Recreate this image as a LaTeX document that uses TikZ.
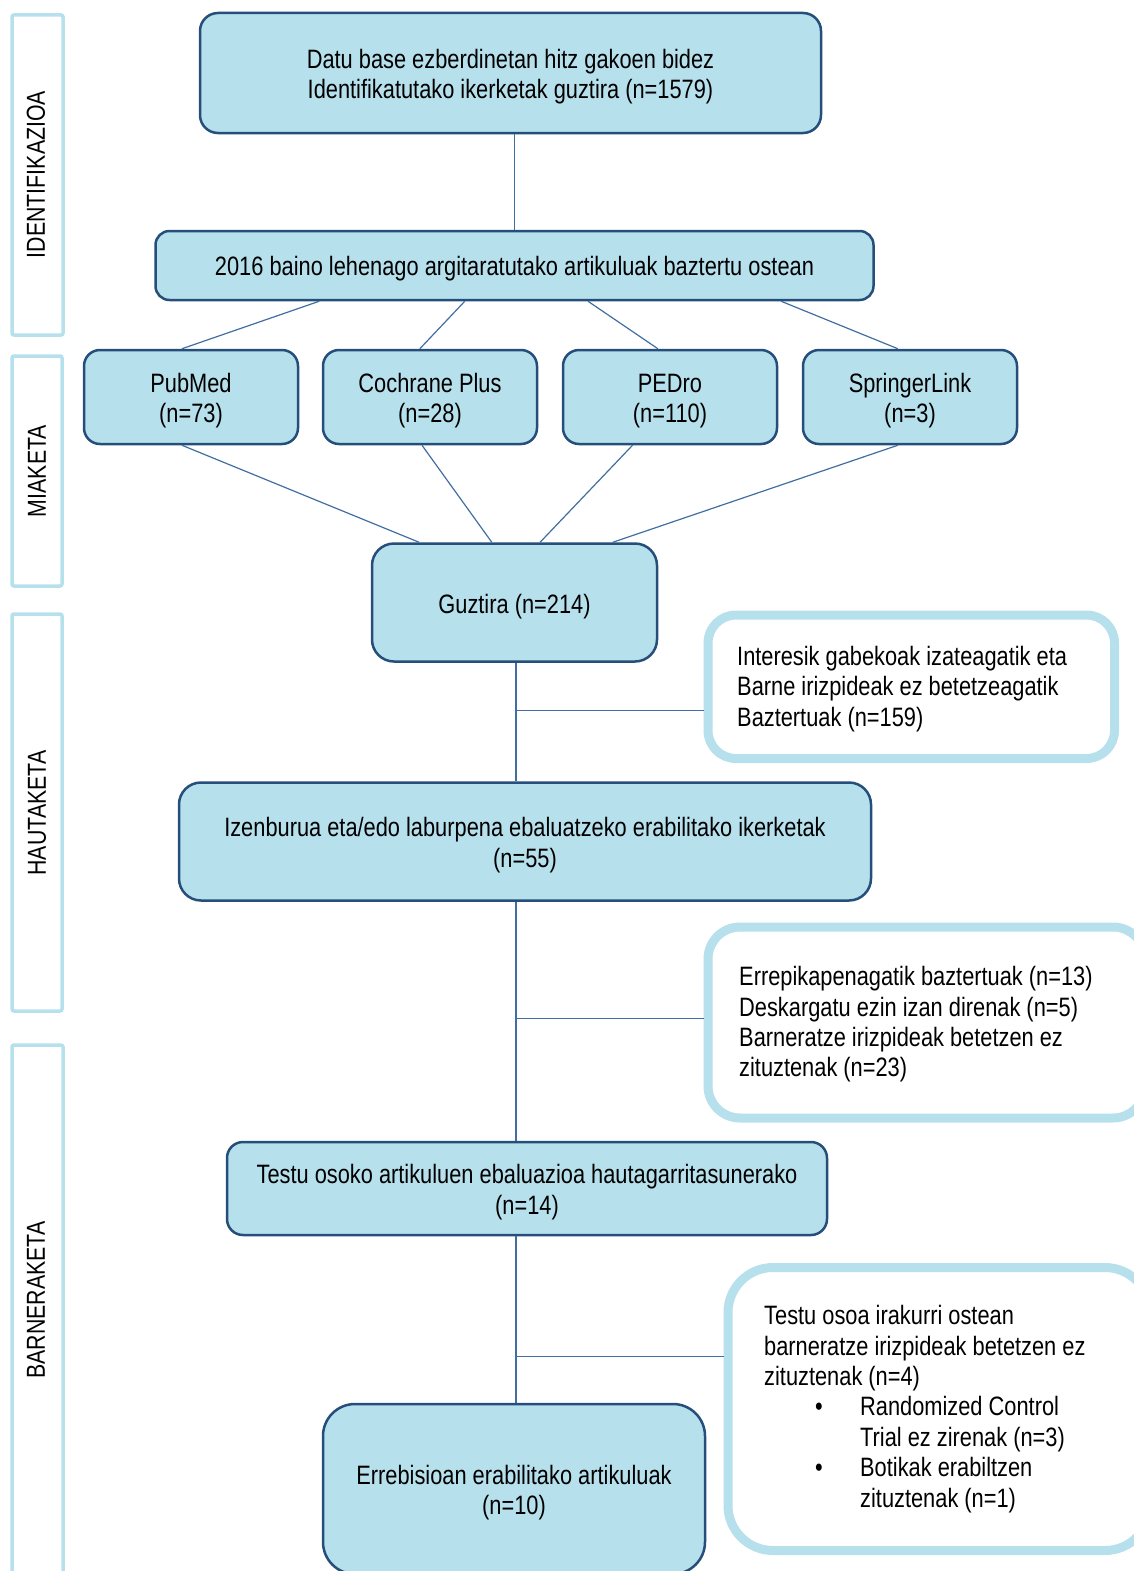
\documentclass[tikz,border=0pt]{standalone}
\usepackage{fontspec}
\setmainfont[FakeStretch=0.82]{Liberation Sans}
\usetikzlibrary{calc}
\definecolor{boxfill}{RGB}{183,224,237}
\definecolor{boxline}{RGB}{37,79,122}
\definecolor{connclr}{RGB}{65,110,160}
\definecolor{pale}{RGB}{183,224,237}
\newcommand\mainfnt{\fontsize{26.6}{30.4}\selectfont}
\newcommand\sidefnt{\fontsize{26}{30}\selectfont}
\newcommand\topstrut{\rule{0pt}{26.5pt}}
\begin{document}
\begin{tikzpicture}[x=1pt,y=-1pt,
  mainbox/.style={draw=boxline, fill=boxfill, line width=2.5pt, rounded corners=#1, align=center, font=\mainfnt, inner sep=0pt},
  exclbox/.style={draw=pale, fill=white, line width=9pt, rounded corners=#1, inner sep=0pt},
  sidebox/.style={draw=pale, line width=3.5pt, rounded corners=2pt, inner sep=0pt},
  sidelabel/.style={rotate=90, font=\sidefnt, inner sep=0pt},
  txt/.style={font=\mainfnt, align=left, inner sep=0pt, anchor=west},
  conn/.style={draw=connclr, line width=1.2pt}]
\clip (0,0) rectangle (1134,1571);

% side stage boxes
\node[sidebox, minimum width=51pt, minimum height=320pt] (s1) at (37.5,175) {};
\node[sidebox, minimum width=50pt, minimum height=230pt] (s2) at (37,471) {};
\node[sidebox, minimum width=50pt, minimum height=397pt] (s3) at (37,812.5) {};
\node[sidebox, minimum width=51pt, minimum height=545pt] (s4) at (37.5,1317.5) {};
\node[sidelabel] (l1) at (36,174.5) {IDENTIFIKAZIOA};
\node[sidelabel] (l2) at (37,471) {MIAKETA};
\node[sidelabel] (l3) at (37,813) {HAUTAKETA};
\node[sidelabel] (l4) at (36,1300) {BARNERAKETA};

% main boxes
\node[mainbox=18pt, minimum width=621pt, minimum height=120pt] (b1) at (510.5,73)
  {\topstrut Datu base ezberdinetan hitz gakoen bidez\\Identifikatutako ikerketak guztira (n=1579)};
\node[mainbox=14pt, minimum width=718pt, minimum height=69pt] (b2) at (514.5,265.5)
  {\topstrut 2016 baino lehenago argitaratutako artikuluak baztertu ostean};
\node[mainbox=16pt, minimum width=214pt, minimum height=94pt] (pub) at (191,397) {\topstrut PubMed\\(n=73)};
\node[mainbox=16pt, minimum width=214pt, minimum height=94pt] (coch) at (430,397) {\topstrut Cochrane Plus\\(n=28)};
\node[mainbox=16pt, minimum width=214pt, minimum height=94pt] (ped) at (670,397) {\topstrut PEDro\\(n=110)};
\node[mainbox=16pt, minimum width=214pt, minimum height=94pt] (spr) at (910,397) {\topstrut SpringerLink\\(n=3)};
\node[mainbox=22pt, minimum width=285pt, minimum height=118pt] (guz) at (514.5,602.5) {\topstrut Guztira (n=214)};
\node[mainbox=22pt, minimum width=692pt, minimum height=118pt] (izen) at (525,841.5)
  {\topstrut Izenburua eta/edo laburpena ebaluatzeko erabilitako ikerketak\\(n=55)};
\node[mainbox=16pt, minimum width=600pt, minimum height=93pt] (testu) at (527,1188.5)
  {\topstrut Testu osoko artikuluen ebaluazioa hautagarritasunerako\\(n=14)};
\node[mainbox=32pt, minimum width=382pt, minimum height=170pt] (erreb) at (514,1489)
  {\topstrut Errebisioan erabilitako artikuluak\\(n=10)};

% exclusion boxes
\node[exclbox=28pt, minimum width=406.5pt, minimum height=143.5pt] (e1) at (911.25,686.75) {};
\node[exclbox=32pt, minimum width=437pt, minimum height=191pt] (e2) at (926.5,1022.5) {};
\node[exclbox=45pt, minimum width=422pt, minimum height=283pt] (e3) at (939,1409) {};
\node[txt] (t1) at (737,689)
  {Interesik gabekoak izateagatik eta\\Barne irizpideak ez betetzeagatik\\Baztertuak (n=159)};
\node[txt] (t2) at (739,1024.5)
  {Errepikapenagatik baztertuak (n=13)\\Deskargatu ezin izan direnak (n=5)\\Barneratze irizpideak betetzen ez\\zituztenak (n=23)};
\node[txt] (t3) at (764,1409)
  {Testu osoa irakurri ostean\\barneratze irizpideak betetzen ez\\zituztenak (n=4)\\
   \hspace*{51pt}\makebox[45pt][l]{\textbullet}Randomized Control\\
   \hspace*{96pt}Trial ez zirenak (n=3)\\
   \hspace*{51pt}\makebox[45pt][l]{\textbullet}Botikak erabiltzen\\
   \hspace*{96pt}zituztenak (n=1)};

% connectors
\draw[conn] (b2.north |- b1.south) -- (b2.north);
\draw[conn] ($(b2.south west)!0.229!(b2.south east)$) -- ($(pub.north west)!0.458!(pub.north east)$);
\draw[conn] ($(b2.south west)!0.431!(b2.south east)$) -- ($(coch.north west)!0.453!(coch.north east)$);
\draw[conn] ($(b2.south west)!0.602!(b2.south east)$) -- ($(ped.north west)!0.444!(ped.north east)$);
\draw[conn] ($(b2.south west)!0.870!(b2.south east)$) -- ($(spr.north west)!0.444!(spr.north east)$);
\draw[conn] ($(pub.south west)!0.458!(pub.south east)$) -- ($(guz.north west)!0.168!(guz.north east)$);
\draw[conn] ($(coch.south west)!0.463!(coch.south east)$) -- ($(guz.north west)!0.421!(guz.north east)$);
\draw[conn] ($(ped.south west)!0.327!(ped.south east)$) -- ($(guz.north west)!0.589!(guz.north east)$);
\draw[conn] ($(spr.south west)!0.444!(spr.south east)$) -- ($(guz.north west)!0.842!(guz.north east)$);

\coordinate (g1) at ($(guz.south)+(1.5,0)$);
\draw[conn] (g1) -- (g1 |- izen.north);
\coordinate (j1) at ($(g1)!0.4!(g1 |- izen.north)$);
\draw[conn] (j1) -- (j1 -| e1.west);

\draw[conn] (g1 |- izen.south) -- (g1 |- testu.north);
\coordinate (j2) at ($(g1 |- izen.south)!0.49!(g1 |- testu.north)$);
\draw[conn] (j2) -- (j2 -| e2.west);

\draw[conn] (g1 |- testu.south) -- (g1 |- erreb.north);
\coordinate (j3) at ($(g1 |- testu.south)!0.72!(g1 |- erreb.north)$);
\draw[conn] (j3) -- (j3 -| e3.west);
\end{tikzpicture}
\end{document}
